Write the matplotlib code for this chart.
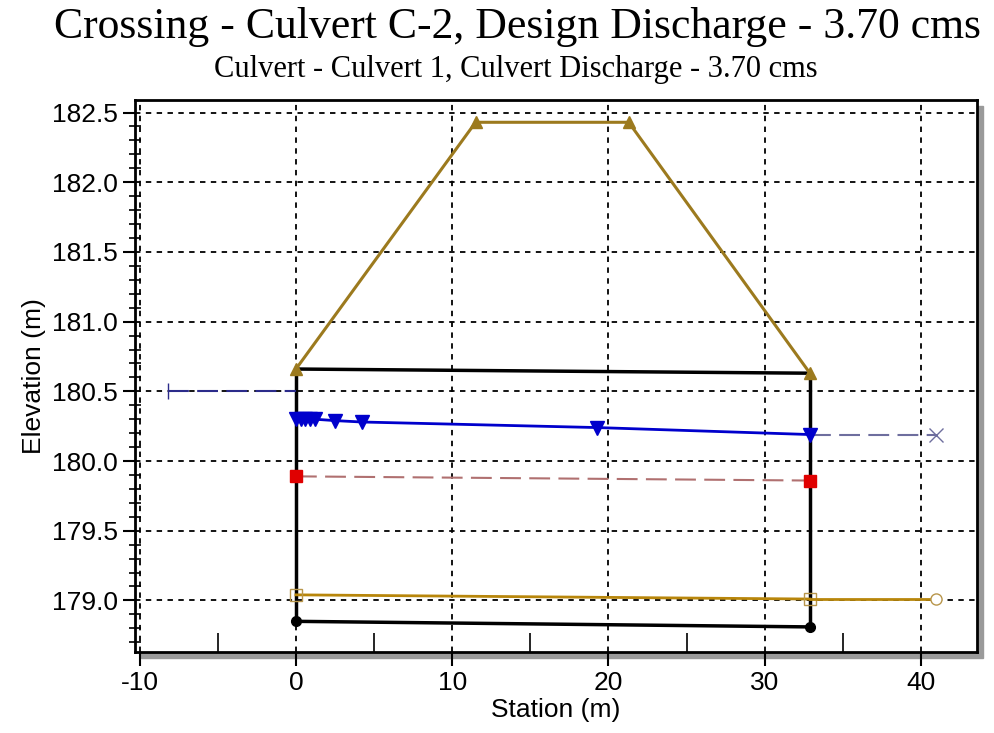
import numpy as np
import matplotlib.pyplot as plt
from matplotlib.patches import Rectangle
from matplotlib.ticker import MultipleLocator

plt.rcParams['font.family'] = ['Liberation Sans', 'DejaVu Sans']
plt.rcParams['axes.unicode_minus'] = False

# culvert crossing profile (station m, elevation m)
culvert_x = [0.0, 32.9]
culvert_top = [180.66, 180.63]
culvert_bot = [178.85, 178.81]

road_x = [0.0, 11.5, 21.3, 32.9]
road_y = [180.66, 182.43, 182.43, 180.63]

ws_x = [0.0, 0.3, 0.6, 0.9, 1.2, 2.5, 4.2, 19.3, 32.9]
ws_y = [180.30, 180.30, 180.30, 180.30, 180.30, 180.29, 180.28, 180.24, 180.19]

hw_x = [-8.2, 0.0]
hw_y = [180.50, 180.50]

tw_x = [32.9, 41.0]
tw_y = [180.19, 180.19]

crit_x = [0.0, 32.9]
crit_y = [179.89, 179.86]

inv_x = [0.0, 32.9]
inv_y = [179.04, 179.01]

chan_x = [32.9, 41.0]
chan_y = [179.01, 179.01]

title = "Crossing - Culvert C-2, Design Discharge - 3.70 cms"
subtitle = "Culvert - Culvert 1, Culvert Discharge - 3.70 cms"

fig = plt.figure(figsize=(9.95, 7.33), dpi=100)
ax = fig.add_axes([0.1357, 0.1105, 0.8463, 0.7531])

# drop shadow behind the plot frame
fig.patches.append(Rectangle((0.1357 + 0.006, 0.1105 - 0.008), 0.8463, 0.7531,
                             transform=fig.transFigure, color='#9a9a9a',
                             zorder=-1))
ax.set_facecolor('white')

gold = '#9C7A1E'
ax.plot(road_x, road_y, color=gold, lw=2.2, marker='^', ms=9, zorder=4)
ax.plot(culvert_x, culvert_top, color='black', lw=2.5, zorder=3)
ax.plot(culvert_x, culvert_bot, color='black', lw=2.5, marker='o', ms=7,
        zorder=3)
ax.plot([culvert_x[0], culvert_x[0]], [culvert_bot[0], culvert_top[0]],
        color='black', lw=2.5, zorder=3)
ax.plot([culvert_x[1], culvert_x[1]], [culvert_bot[1], culvert_top[1]],
        color='black', lw=2.5, zorder=3)

ax.plot(hw_x, hw_y, color='#2B2B8A', lw=1.5, dashes=(10, 4), marker='|',
        ms=12, markevery=[0], zorder=4)
ax.plot(tw_x, tw_y, color='#6E6E9E', lw=1.5, dashes=(10, 4), marker='x',
        ms=10, markevery=[1], zorder=4)
ax.plot(ws_x, ws_y, color='#0000CC', lw=2, marker='v', ms=10, zorder=5)
ax.plot(crit_x, crit_y, color='#B07070', lw=1.5, dashes=(10, 4), zorder=4)
ax.plot(crit_x, crit_y, ls='none', marker='s', ms=9, color='#E00000',
        zorder=5)
ax.plot(inv_x, inv_y, color='#B8860B', lw=2, marker='s', ms=9,
        mfc='none', mec='#B8964B', zorder=4)
ax.plot(chan_x, chan_y, color='#B8860B', lw=2, marker='o', ms=8,
        mfc='white', mec='#B8964B', markevery=[1], zorder=4)

ax.set_xlim(-10.3, 43.6)
ax.set_ylim(178.63, 182.59)
ax.xaxis.set_major_locator(MultipleLocator(10))
ax.xaxis.set_minor_locator(MultipleLocator(5))
ax.yaxis.set_major_locator(MultipleLocator(0.5))
ax.yaxis.set_minor_locator(MultipleLocator(0.1))
ax.yaxis.set_major_formatter(plt.FormatStrFormatter('%.1f'))

ax.grid(True, which='major', color='black', ls=(0, (3, 3)), lw=1.3)
ax.tick_params(axis='x', which='major', direction='out', length=10,
               width=1.5, labelsize=19)
ax.tick_params(axis='x', which='minor', direction='in', length=14,
               width=1.2)
ax.tick_params(axis='y', which='major', direction='out', length=9,
               width=1.5, labelsize=19)
ax.tick_params(axis='y', which='minor', direction='inout', length=8,
               width=1.2)
for s in ax.spines.values():
    s.set_linewidth(2)

ax.set_xlabel("Station (m)", fontsize=19, labelpad=2)
ax.set_ylabel("Elevation (m)", fontsize=19, labelpad=4)

fig.text(0.52, 0.963, title, ha='center', va='center',
         family='Liberation Serif', fontsize=31.5)
fig.text(0.518, 0.905, subtitle, ha='center', va='center',
         family='Liberation Serif', fontsize=22)

fig.savefig("out.png", dpi=100)
